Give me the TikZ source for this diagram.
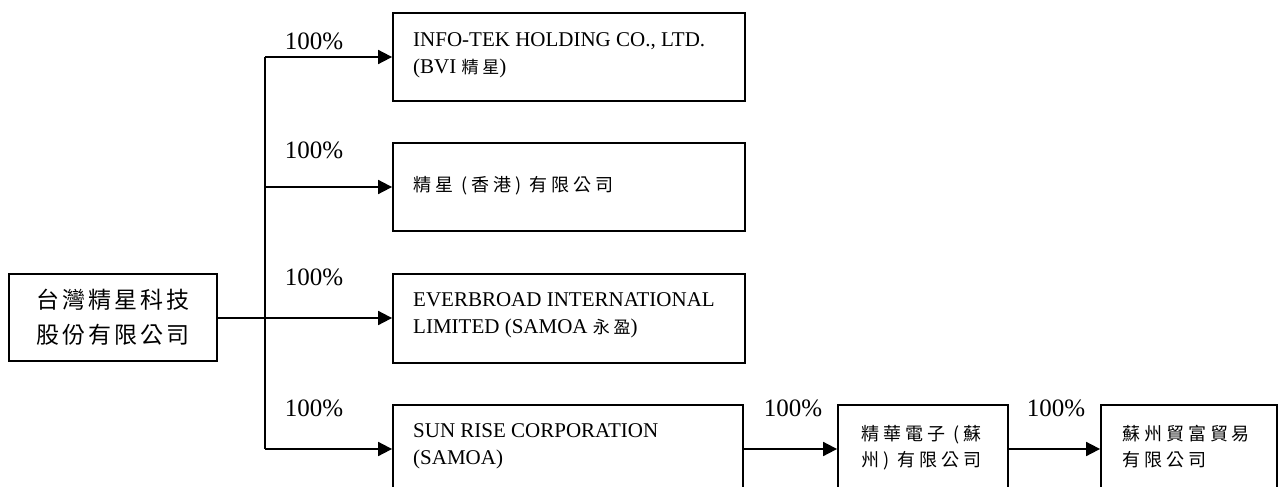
\documentclass[tikz,border=0pt]{standalone}
\usepackage{fontspec}
\setmainfont{Liberation Serif}
\newfontfamily\cjk{Noto Sans CJK TC}
\newfontfamily\cjksp[LetterSpace=22]{Noto Sans CJK TC}
\newfontfamily\cjkbig[LetterSpace=13]{Noto Sans CJK TC}
\usetikzlibrary{arrows.meta}
\begin{document}
\begin{tikzpicture}[x=1pt,y=-1pt,
  box/.style={draw, line width=1.8pt, inner sep=0pt},
  conn/.style={line width=1.8pt},
  arr/.style={line width=1.8pt, -{Triangle[length=14pt,width=14pt]}},
  pct/.style={font=\fontsize{25}{25}\selectfont, inner sep=0pt},
  ltxt/.style={anchor=north west, align=left, inner sep=0pt, font=\fontsize{21}{27}\selectfont},
  ctxt/.style={anchor=north west, align=left, inner sep=0pt, font=\fontsize{18}{26}\cjksp}
]
\useasboundingbox (0,0) rectangle (1280,487);
\clip (0,0) rectangle (1280,487);
% boxes
\node[box, minimum width=208pt, minimum height=87pt] (L) at (113,317.5) {};
\node[box, minimum width=352pt, minimum height=88pt] (B1) at (569,57) {};
\node[box, minimum width=352pt, minimum height=88pt] (B2) at (569,187) {};
\node[box, minimum width=352pt, minimum height=89pt] (B3) at (569,318.5) {};
\node[box, minimum width=350pt, minimum height=88pt] (B4) at (568,449) {};
\node[box, minimum width=170pt, minimum height=88pt] (B5) at (923,449) {};
\node[box, minimum width=176pt, minimum height=88pt] (B6) at (1189,449) {};
% texts
\node[align=center, inner sep=0pt, font=\fontsize{23}{35}\cjkbig] (Lt) at (L.center) {台灣精星科技\\股份有限公司};
\node[ltxt] (T1) at (413,32) {INFO-TEK HOLDING CO., LTD.\\(BVI {\fontsize{17}{27}\cjksp 精星})};
\node[anchor=west, inner sep=0pt, font=\fontsize{18}{26}\cjksp] (T2) at (413,186) {精星 (香港) 有限公司};
\node[ltxt] (T3) at (413,292) {EVERBROAD INTERNATIONAL\\LIMITED (SAMOA {\fontsize{17}{27}\cjksp 永盈})};
\node[ltxt] (T4) at (413,423) {SUN RISE CORPORATION\\(SAMOA)};
\node[ctxt] (T5) at (861,425) {精華電子 (蘇\\州) 有限公司};
\node[ctxt] (T6) at (1122,425) {蘇州貿富貿易\\有限公司};
% percentages
\node[pct] (P1) at (314,41) {100\%};
\node[pct] (P2) at (314,150) {100\%};
\node[pct] (P3) at (314,277) {100\%};
\node[pct] (P4) at (314,408) {100\%};
\node[pct] (P5) at (793,408) {100\%};
\node[pct] (P6) at (1056,408) {100\%};
% connectors
\coordinate (t1) at (265,57);
\coordinate (t2) at (265,187);
\coordinate (t3) at (265,318);
\coordinate (t4) at (265,449);
\draw[conn] (L.east |- t3) -- (t3);
\draw[conn] (t1) -- (t4);
\draw[arr] (t1) -- (B1.west);
\draw[arr] (t2) -- (B2.west);
\draw[arr] (t3) -- (B3.west |- t3);
\draw[arr] (t4) -- (B4.west);
\draw[arr] (B4.east) -- (B5.west);
\draw[arr] (B5.east) -- (B6.west);
\end{tikzpicture}
\end{document}
